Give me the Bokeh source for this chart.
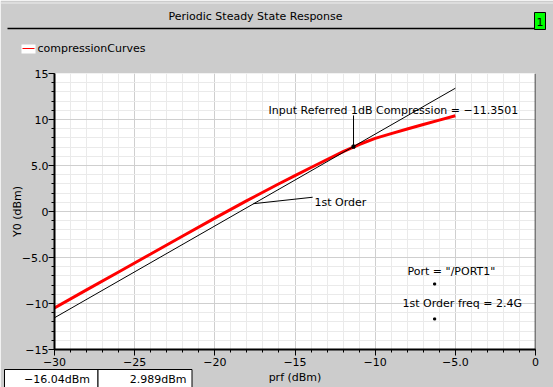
from bokeh.plotting import figure
from bokeh.layouts import column
from bokeh.models import FixedTicker, Span, Range1d
from bokeh.core.properties import value
from bokeh.embed import file_html
from bokeh.resources import INLINE
import math

# ---- data ----
prf_dbm = [-30, -28, -26, -24, -22, -20, -18, -16, -15, -14, -13, -12, -11, -10, -9, -8, -7, -6, -5]
y0_dbm = [-10.47, -8.52, -6.57, -4.62, -2.66, -0.72, 1.18, 3.02, 3.9, 4.78, 5.65, 6.5, 7.28,
          7.95, 8.47, 8.96, 9.45, 9.93, 10.4]
first_order_x = [-30, -5]
first_order_y = [-11.55, 13.4]
comp_point_x = [-11.35]
comp_point_y = [7.05]
info_dots_x = [-6.29, -6.29]
info_dots_y = [-7.88, -11.68]
x_ticks = [-30, -25, -20, -15, -10, -5, 0]
x_tick_labels = ["−30", "−25", "−20", "−15", "−10", "−5.0", "0"]
y_ticks = [-15, -10, -5, 0, 5, 10, 15]
y_tick_labels = ["−15", "−10", "−5.0", "0", "5.0", "10", "15"]
x_minor = list(range(-30, 1))
y_minor = list(range(-15, 16))
series_name = "compressionCurves"
chart_title = "Periodic Steady State Response"
y_axis_title = "Y0 (dBm)"
readouts = ["−16.04dBm", "2.989dBm"]

FONT = "DejaVu Sans"
FS = "11px"
W, H = 553, 387

# ---------------- main chart ----------------
p = figure(width=W, height=H,
           x_range=Range1d(-30, 0), y_range=Range1d(-15, 15),
           output_backend="svg", toolbar_location=None,
           min_border_left=54, min_border_right=18,
           min_border_top=73, min_border_bottom=38,
           border_fill_color="#cccccc", background_fill_color="white",
           outline_line_color=None)

xt = FixedTicker(ticks=x_ticks, minor_ticks=x_minor)
yt = FixedTicker(ticks=y_ticks, minor_ticks=y_minor)
p.xaxis.ticker = xt
p.yaxis.ticker = yt
p.xgrid.ticker = xt
p.ygrid.ticker = yt
p.xaxis.major_label_overrides = dict(zip(x_ticks, x_tick_labels))
p.yaxis.major_label_overrides = dict(zip(y_ticks, y_tick_labels))
for ax in (p.xaxis[0], p.yaxis[0]):
    ax.axis_line_color = "black"
    ax.axis_line_width = 2
    ax.major_tick_line_color = "black"
    ax.minor_tick_line_color = "black"
    ax.major_tick_out = 6
    ax.major_tick_in = 0
    ax.minor_tick_out = 3
    ax.minor_tick_in = 0
    ax.major_label_text_font = FONT
    ax.major_label_text_font_size = FS
    ax.major_label_text_color = "black"
    ax.axis_label_text_font = FONT
    ax.axis_label_text_font_size = FS
    ax.axis_label_text_font_style = "normal"
    ax.axis_label_text_color = "black"
p.xaxis.axis_label = "prf (dBm)"
p.xaxis.major_label_standoff = 2
p.xaxis.axis_label_standoff = 2
p.yaxis.major_label_standoff = 0

for g in (p.xgrid[0], p.ygrid[0]):
    g.grid_line_color = "#cfcfcf"
    g.minor_grid_line_color = "#eaeaea"

p.add_layout(Span(location=0, dimension="height", line_color="black", line_width=1.5))

p.line(prf_dbm, y0_dbm, line_color="#ff0000", line_width=3)
p.line(first_order_x, first_order_y, line_color="black", line_width=1)
p.scatter(comp_point_x, comp_point_y, marker="square", size=3, color="black")
p.scatter(info_dots_x, info_dots_y, marker="square", size=2, color="black")

# leader lines of the annotations (data units)
p.segment(x0=[-11.35, -17.59], y0=[10.44, 0.85], x1=[-11.35, -13.9], y1=[7.05, 1.55],
          line_color="black", line_width=1)
p.text(x=[-16.65, -13.78, -7.98, -8.29], y=[10.99, 1.0, -6.47, -9.95],
       text=["Input Referred 1dB Compression = −11.3501", "1st Order",
             'Port = "/PORT1"', "1st Order freq = 2.4G"],
       text_font=value(FONT), text_font_size=FS, text_baseline="middle",
       text_align="left", text_color="black")

# ---------------- window decorations (pixel overlay) ----------------
d = figure(width=W, height=H, x_range=Range1d(0, W), y_range=Range1d(H, 0),
           output_backend="svg", toolbar_location=None,
           x_axis_location=None, y_axis_location=None,
           min_border=0, min_border_left=0, min_border_right=0,
           min_border_top=0, min_border_bottom=0,
           outline_line_color=None,
           background_fill_alpha=0, border_fill_alpha=0)
d.grid.visible = False
if "frame_align" in d.properties():
    d.frame_align = False
d.margin = (-H, 0, 0, 0)

# top highlight and title underline
d.segment(x0=[0, 7], y0=[2.5, 28], x1=[W, 535], y1=[2.5, 28],
          line_color=["#eeeeee", "black"], line_width=[1, 1.5])
d.text(x=[255], y=[16], text=[chart_title], text_font=value(FONT),
       text_font_size=FS, text_align="center", text_baseline="middle",
       text_color="black")
# y axis title (rotated)
d.text(x=[17], y=[211], text=[y_axis_title], angle=math.pi / 2,
       text_font=value(FONT), text_font_size=FS, text_align="center",
       text_baseline="middle", text_color="black")
# subwindow tag
d.quad(left=[534], right=[545], top=[12], bottom=[29],
       fill_color="#00ff00", line_color="black", line_width=1)
d.text(x=[539.5], y=[21], text=["1"], text_font=value(FONT),
       text_font_size=FS, text_align="center", text_baseline="middle",
       text_color="black")
# legend
d.quad(left=[21], right=[35], top=[44], bottom=[53],
       fill_color="white", line_color=None)
d.segment(x0=[22], y0=[48], x1=[34], y1=[48], line_color="#ff0000", line_width=1)
d.text(x=[37], y=[48], text=[series_name], text_font=value(FONT),
       text_font_size=FS, text_align="left", text_baseline="middle",
       text_color="black")
# marker readouts
d.quad(left=[4, 97.5], right=[97.5, 191.5], top=[369, 369], bottom=[392, 392],
       fill_color="white", line_color="black", line_width=1)
d.text(x=[89.5, 186], y=[379, 379], text=readouts, text_font=value(FONT),
       text_font_size=FS, text_align="right", text_baseline="alphabetic",
       text_color="black")

layout = column(p, d)
open("out.html", "w").write(file_html(layout, INLINE))
